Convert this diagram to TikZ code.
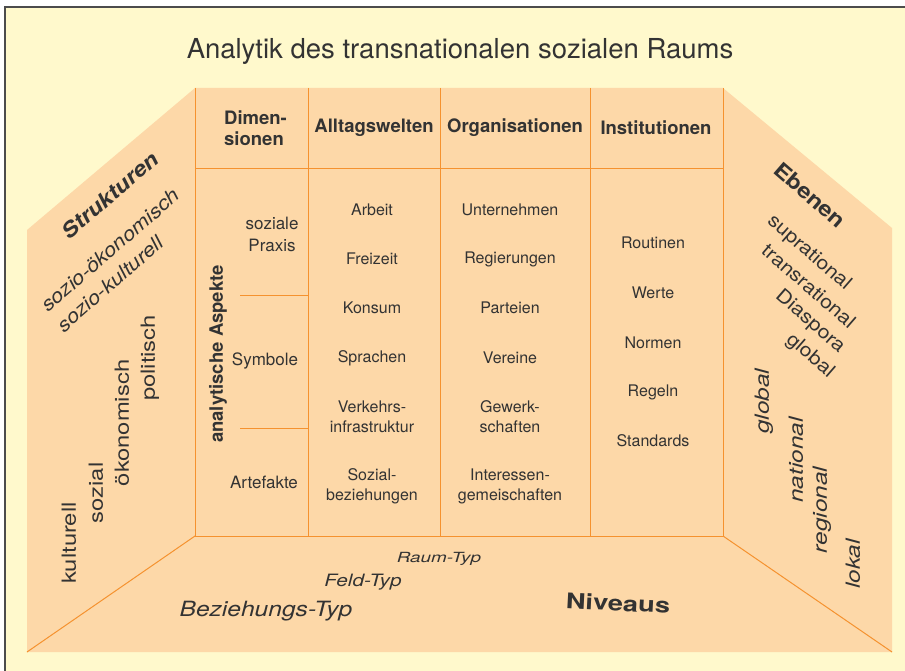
\documentclass[tikz,border=0pt]{standalone}
\usepackage{fontspec}
\setmainfont{TeX Gyre Heros}
\usepackage{graphicx}
\definecolor{paper}{HTML}{FFF9CC}
\definecolor{peach}{HTML}{FDD8A8}
\definecolor{rule}{HTML}{F5922F}
\definecolor{ink}{HTML}{333333}
\newcommand{\wide}[2]{\scalebox{#1}[1]{#2}}
\tikzstyle{grid}=[draw=rule, line width=1pt]
\tikzstyle{head}=[font=\fontsize{18.5}{21}\selectfont\bfseries, text=ink, align=center, inner sep=0pt]
\tikzstyle{item}=[font=\fontsize{16}{20}\selectfont, text=ink, align=center, inner sep=0pt]
\tikzstyle{aspect}=[font=\fontsize{17}{22}\selectfont, text=ink, align=center, inner sep=0pt]
\tikzstyle{wall}=[text=ink, inner sep=0pt]

\begin{document}
\begin{tikzpicture}[x=1pt, y=-1pt]
    \useasboundingbox (0,0) rectangle (905,671);
    \fill[paper] (5,7) rectangle (905,671);
    \draw[black!70, line width=1.5pt] (5,671) -- (5,7) -- (905,7);

    % corners of the room
    \coordinate (wtl) at (195,88);
    \coordinate (wtr) at (723,88);
    \coordinate (wbl) at (195,536);
    \coordinate (wbr) at (723,536);
    \coordinate (ltop) at (27,230);
    \coordinate (rtop) at (892,228);
    \coordinate (fbl) at (27,652);
    \coordinate (fbr) at (892,652);
    \fill[peach] (ltop) -- (wtl) -- (wtr) -- (rtop) -- (fbr) -- (fbl) -- cycle;

    % table on the back wall
    \foreach \x in {195,308,440,590,723}
        \draw[grid] (\x,88) -- (\x,536);
    \draw[grid] (195,169) -- (723,169);
    \draw[grid] (wbl) -- (wbr);
    \draw[grid] (240,295) -- (308,295) (240,428) -- (308,428);
    \draw[grid] (wbl) -- (fbl) (wbr) -- (fbr);

    \node[font=\fontsize{27.5}{30}\selectfont, text=ink] (title) at (460,51) {Analytik des transnationalen sozialen Raums};

    \node[head, align=left, anchor=west] (dim) at (224,128) {Dimen-\\sionen};
    \node[head] (alltag) at (374,128) {Alltagswelten};
    \node[head] (org) at (515,128) {Organisationen};
    \node[head] (inst) at (656,128) {Institutionen};

    \node[head, rotate=90] (aspekte) at (218,354) {analytische Aspekte};
    \node[aspect] (praxis) at (272,234) {soziale\\Praxis};
    \node[aspect] (symbole) at (265,361) {Symbole};
    \node[aspect] (artefakte) at (264,482) {Artefakte};

    \node[item] (arbeit) at (372,210) {Arbeit};
    \node[item] (freizeit) at (372,259) {Freizeit};
    \node[item] (konsum) at (372,308) {Konsum};
    \node[item] (sprachen) at (372,358) {Sprachen};
    \node[item] (verkehr) at (372,417) {Verkehrs-\\infrastruktur};
    \node[item] (sozial) at (372,486) {Sozial-\\beziehungen};

    \node[item] (unternehmen) at (510,210) {Unternehmen};
    \node[item] (regierungen) at (510,259) {Regierungen};
    \node[item] (parteien) at (510,308) {Parteien};
    \node[item] (vereine) at (510,358) {Vereine};
    \node[item] (gewerk) at (510,417) {Gewerk-\\schaften};
    \node[item] (interessen) at (510,486) {Interessen-\\gemeischaften};

    \node[item] (routinen) at (653,243) {Routinen};
    \node[item] (werte) at (653,293) {Werte};
    \node[item] (normen) at (653,343) {Normen};
    \node[item] (regeln) at (653,392) {Regeln};
    \node[item] (standards) at (653,441) {Standards};

    % left wall
    \node[wall, rotate=41, font=\fontsize{21}{21}\selectfont\bfseries\itshape] (strukturen) at (110,195) {\wide{1.13}{Strukturen}};
    \node[wall, rotate=41, font=\fontsize{19.5}{20}\selectfont\itshape] (soziooek) at (110,250) {\wide{1.13}{sozio-ökonomisch}};
    \node[wall, rotate=41, font=\fontsize{19.5}{20}\selectfont\itshape] (soziokult) at (110,284) {\wide{1.13}{sozio-kulturell}};
    \node[wall, rotate=90, font=\fontsize{19.5}{20}\selectfont] (politisch) at (150,358) {\wide{1.22}{politisch}};
    \node[wall, rotate=90, font=\fontsize{19.5}{20}\selectfont] (oekonomisch) at (122,423) {\wide{1.22}{ökonomisch}};
    \node[wall, rotate=90, font=\fontsize{19.5}{20}\selectfont] (lsozial) at (96,493) {\wide{1.22}{sozial}};
    \node[wall, rotate=90, font=\fontsize{19.5}{20}\selectfont] (kulturell) at (69,543) {\wide{1.22}{kulturell}};

    % right wall
    \node[wall, rotate=-41, font=\fontsize{21}{21}\selectfont\bfseries] (ebenen) at (810,195) {\wide{1.15}{Ebenen}};
    \node[wall, rotate=-41, font=\fontsize{19}{20}\selectfont] (supra) at (809,253) {\wide{1.12}{suprational}};
    \node[wall, rotate=-41, font=\fontsize{19}{20}\selectfont] (trans) at (809,286) {\wide{1.12}{transrational}};
    \node[wall, rotate=-41, font=\fontsize{19}{20}\selectfont] (diaspora) at (810,322) {\wide{1.12}{Diaspora}};
    \node[wall, rotate=-41, font=\fontsize{19}{20}\selectfont] (eglobal) at (810,356) {\wide{1.12}{global}};
    \node[wall, rotate=90, font=\fontsize{19.5}{20}\selectfont\itshape] (rglobal) at (764,401) {\wide{1.25}{global}};
    \node[wall, rotate=90, font=\fontsize{19.5}{20}\selectfont\itshape] (national) at (796,460) {\wide{1.25}{national}};
    \node[wall, rotate=90, font=\fontsize{19.5}{20}\selectfont\itshape] (regional) at (822,510) {\wide{1.25}{regional}};
    \node[wall, rotate=90, font=\fontsize{19.5}{20}\selectfont\itshape] (lokal) at (853,564) {\wide{1.25}{lokal}};

    % floor
    \node[wall, font=\fontsize{14}{14}\selectfont\itshape] (raum) at (439,559) {\wide{1.35}{Raum-Typ}};
    \node[wall, font=\fontsize{17}{17}\selectfont\itshape] (feld) at (363,582) {\wide{1.22}{Feld-Typ}};
    \node[wall, font=\fontsize{21}{21}\selectfont\itshape] (bez) at (266,611) {\wide{1.17}{Beziehungs-Typ}};
    \node[wall, rotate=-3, font=\fontsize{21.5}{22}\selectfont\bfseries] (niveaus) at (618,603) {\wide{1.27}{Niveaus}};
\end{tikzpicture}
\end{document}
